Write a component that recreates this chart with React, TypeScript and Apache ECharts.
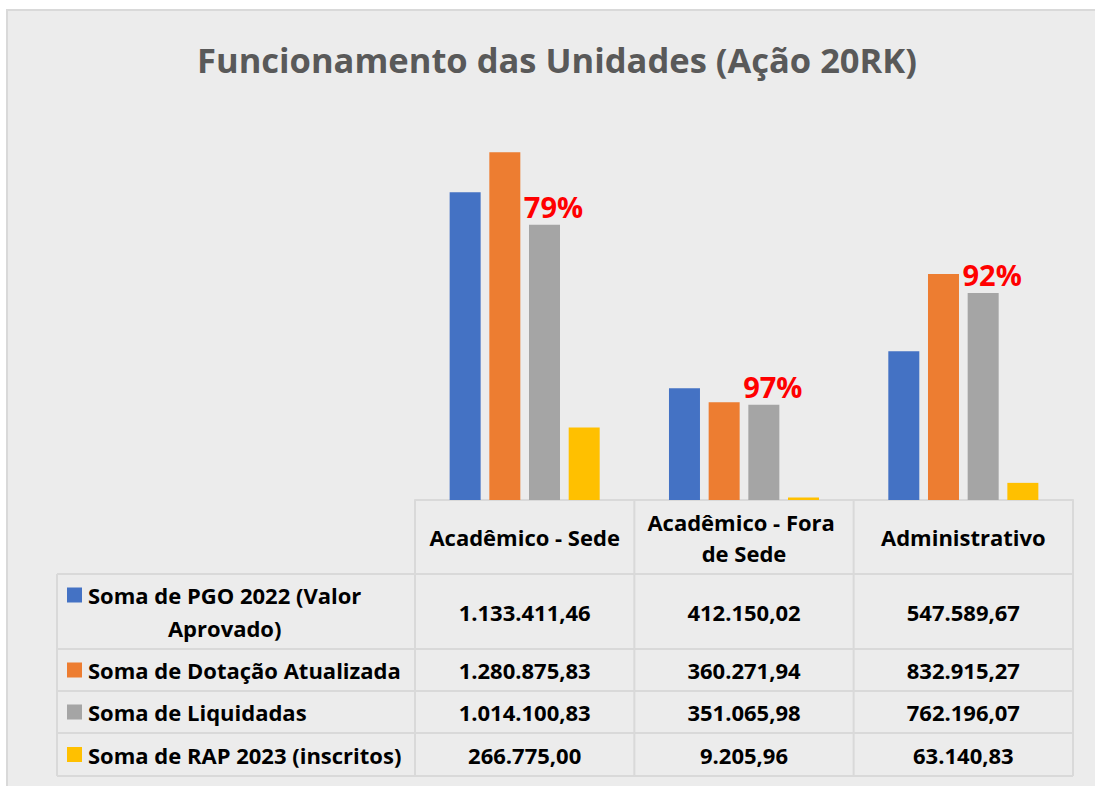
import React, { useEffect, useRef } from "react";
import * as echarts from "echarts";

const titleText = "Funcionamento das Unidades (Ação 20RK)";
const categories = ["Acadêmico - Sede", "Acadêmico - Fora de Sede", "Administrativo"];
const seriesNames = [
  "Soma de PGO 2022 (Valor Aprovado)",
  "Soma de Dotação Atualizada",
  "Soma de Liquidadas",
  "Soma de RAP 2023 (inscritos)",
];
const pgo2022 = [1133411.46, 412150.02, 547589.67];
const dotacao = [1280875.83, 360271.94, 832915.27];
const liquidadas = [1014100.83, 351065.98, 762196.07];
const rap2023 = [266775.0, 9205.96, 63140.83];

const seriesValues = [pgo2022, dotacao, liquidadas, rap2023];
const colors = ["#4472c4", "#ed7d31", "#a5a5a5", "#ffc000"];

const FONT = "'Open Sans'";
const W = 1095;
const H = 786;

function fmtBR(v: number): string {
  const fixed = v.toFixed(2);
  const [intPart, dec] = fixed.split(".");
  const withDots = intPart.replace(/\B(?=(\d{3})+(?!\d))/g, ".");
  return withDots + "," + dec;
}

function wrapText(text: string, font: string, maxW: number): { lines: string[]; width: number } {
  const canvas = document.createElement("canvas");
  const ctx = canvas.getContext("2d")!;
  ctx.font = font;
  const words = text.split(" ");
  const lines: string[] = [];
  let cur = "";
  for (const w of words) {
    const test = cur ? cur + " " + w : w;
    if (ctx.measureText(test).width > maxW && cur) {
      lines.push(cur);
      cur = w;
    } else {
      cur = test;
    }
  }
  if (cur) lines.push(cur);
  const width = Math.max(...lines.map((l) => ctx.measureText(l).width));
  return { lines, width };
}

export default function App() {
  const ref = useRef<HTMLDivElement>(null);

  useEffect(() => {
    document.body.style.margin = "0";
    const chart = echarts.init(ref.current!, undefined, { renderer: "svg" });

    const gridLeft = 415;
    const gridRight = 22;
    const gridTop = 120;
    const gridBottom = H - 500;

    chart.setOption({
      animation: false,
      backgroundColor: "#ffffff",
      grid: { left: gridLeft, right: gridRight, top: gridTop, bottom: gridBottom, containLabel: false },
      xAxis: {
        type: "category",
        data: categories,
        axisLine: { show: true, lineStyle: { color: "#d9d9d9", width: 2 } },
        axisTick: { show: false },
        axisLabel: {
          show: true,
          interval: 0,
          margin: 37,
          verticalAlign: "middle",
          width: 210,
          overflow: "break",
          lineHeight: 31,
          fontFamily: FONT,
          fontWeight: "bold",
          fontSize: 22,
          color: "#000000",
        },
      },
      yAxis: {
        type: "value",
        min: 0,
        max: 1400000,
        show: false,
        splitLine: { show: false },
      },
      series: seriesNames.map((name, i) => ({
        name,
        type: "bar",
        data: seriesValues[i],
        barWidth: 31,
        barGap: "28%",
        itemStyle: { color: colors[i] },
        label:
          i === 2
            ? {
                show: true,
                position: "top",
                distance: 4,
                offset: [9, 0],
                color: "#ff0000",
                fontFamily: FONT,
                fontWeight: "bold",
                fontSize: 29,
                formatter: (p: any) =>
                  Math.round((liquidadas[p.dataIndex] / dotacao[p.dataIndex]) * 100) + "%",
              }
            : { show: false },
      })),
    });

    // Data table drawn with graphic, positioned from the category axis
    const centers = categories.map((c) => chart.convertToPixel({ xAxisIndex: 0 }, c) as number);
    const band = centers[1] - centers[0];
    const colEdges = [centers[0] - band / 2, ...centers.map((c) => c + band / 2)];
    const baseY = chart.convertToPixel({ yAxisIndex: 0 }, 0) as number;
    const headerBottom = 574;
    const rowEdges = [headerBottom, 649, 691, 733, 776];
    const tableLeft = 57;
    const lineColor = "#d9d9d9";

    const graphic: any[] = [];
    graphic.push({
      type: "rect",
      z: -10,
      silent: true,
      shape: { x: 7, y: 10, width: 1110, height: 800 },
      style: { fill: "#ececec", stroke: "#d9d9d9", lineWidth: 2 },
    });
    graphic.push({
      type: "text",
      x: 557,
      y: 59,
      style: {
        text: titleText,
        fill: "#595959",
        font: `bold 34.5px ${FONT}`,
        textAlign: "center",
        textVerticalAlign: "middle",
      },
    });

    const tableRight = colEdges[colEdges.length - 1];
    rowEdges.forEach((y) => {
      graphic.push({
        type: "line",
        shape: { x1: tableLeft, y1: y, x2: tableRight, y2: y },
        style: { stroke: lineColor, lineWidth: 2 },
      });
    });
    colEdges.forEach((x) => {
      graphic.push({
        type: "line",
        shape: { x1: x, y1: baseY, x2: x, y2: rowEdges[rowEdges.length - 1] },
        style: { stroke: lineColor, lineWidth: 2 },
      });
    });
    graphic.push({
      type: "line",
      shape: { x1: tableLeft, y1: headerBottom, x2: tableLeft, y2: rowEdges[rowEdges.length - 1] },
      style: { stroke: lineColor, lineWidth: 2 },
    });

    const cellFont = `bold 22px ${FONT}`;
    const keyX = 67;
    const textX = 88;
    const lineH = 33;
    seriesNames.forEach((name, r) => {
      const top = rowEdges[r];
      const bottom = rowEdges[r + 1];
      const cy = (top + bottom) / 2;
      const { lines, width } = wrapText(name, cellFont, 324);
      const firstLineY = cy - ((lines.length - 1) * lineH) / 2;
      graphic.push({
        type: "rect",
        shape: { x: keyX, y: firstLineY - 7.5, width: 15, height: 15 },
        style: { fill: colors[r] },
      });
      graphic.push({
        type: "text",
        x: textX + width / 2,
        y: cy,
        style: {
          text: lines.join("\n"),
          font: cellFont,
          fill: "#000000",
          textAlign: "center",
          textVerticalAlign: "middle",
          lineHeight: lineH,
        },
      });
      seriesValues[r].forEach((v, c) => {
        graphic.push({
          type: "text",
          x: centers[c],
          y: cy,
          style: {
            text: fmtBR(v),
            font: cellFont,
            fill: "#000000",
            textAlign: "center",
            textVerticalAlign: "middle",
          },
        });
      });
    });

    chart.setOption({ graphic });

    return () => {
      chart.dispose();
    };
  }, []);

  return <div ref={ref} style={{ width: W, height: H }} />;
}
